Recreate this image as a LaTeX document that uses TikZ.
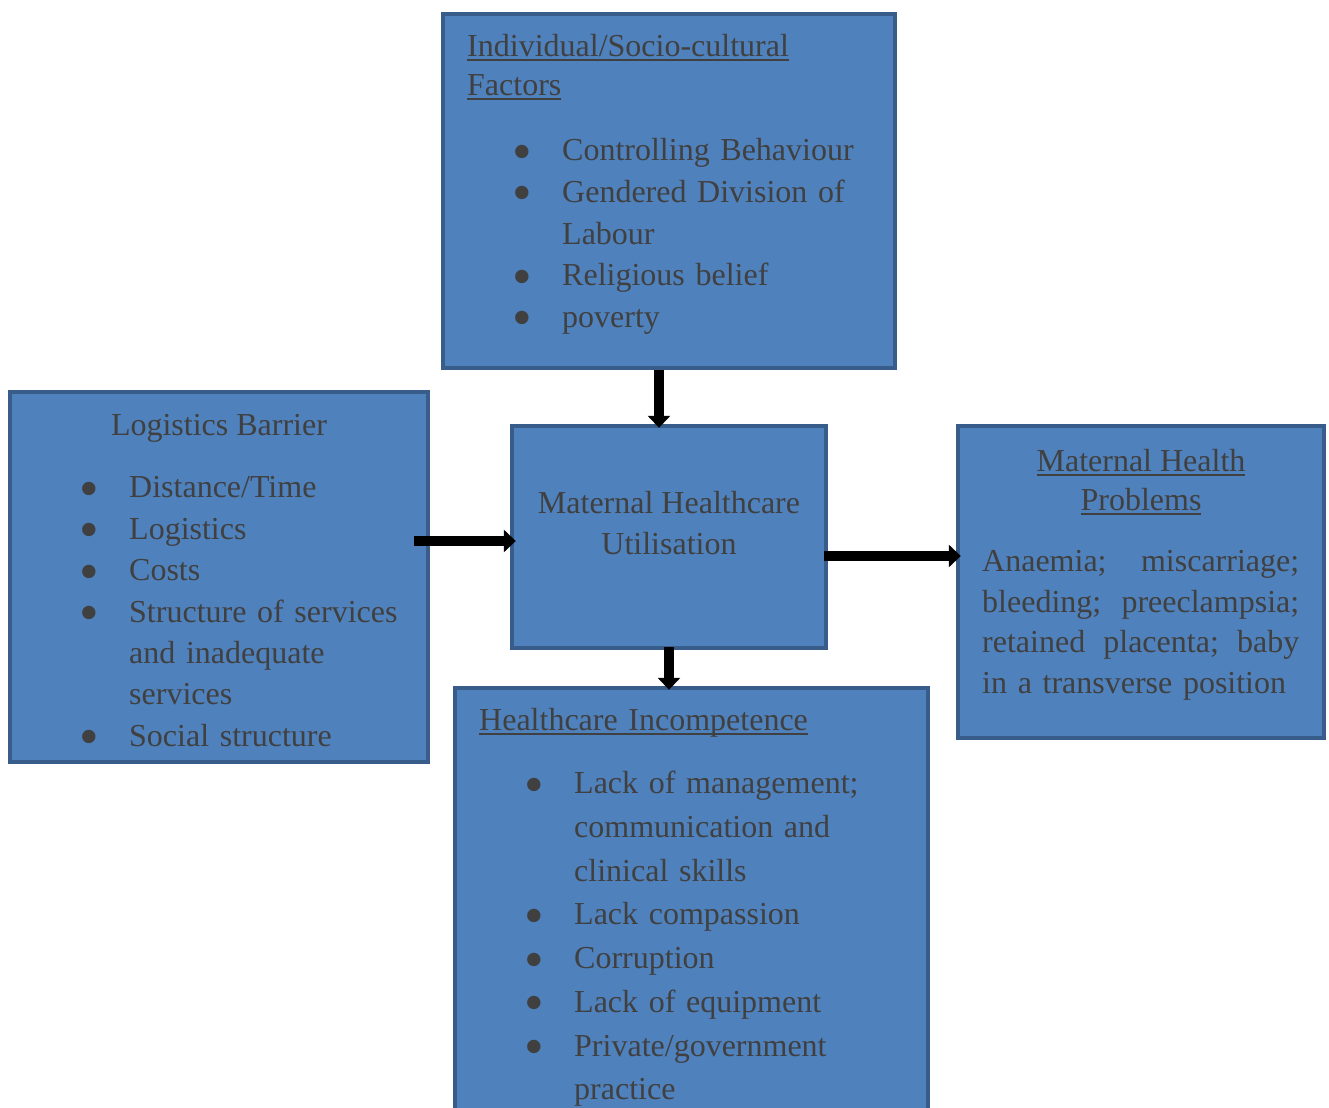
\documentclass[tikz,border=0pt]{standalone}
\usepackage{fontspec}
\setmainfont{Liberation Serif}
\usetikzlibrary{positioning,arrows.meta}

\definecolor{boxfill}{HTML}{4F81BD}
\definecolor{boxline}{HTML}{385D8A}
\definecolor{txtc}{HTML}{404040}

\newcommand{\undl}[1]{\leavevmode\setbox0\hbox{#1}\rlap{\rule[-2pt]{\wd0}{0.7pt}}\box0}
\newcommand{\bitem}{\makebox[22.5pt][l]{\makebox[5.5pt][c]{\raisebox{-4.7pt}[0pt][0pt]{\fontsize{28}{28}\selectfont\textbullet}}}}
\newcommand{\bcont}{\leavevmode\hspace*{22.5pt}}

\begin{document}
\begin{tikzpicture}[
            x=0.5pt, y=-0.5pt,
            box/.style={rectangle,draw=boxline,line width=2.2pt,fill=boxfill,inner sep=0},
            txt/.style={text=txtc,inner sep=0,text width=#1,align=left},
            ctxt/.style={text=txtc,inner sep=0,align=center},
            arr/.style={line width=5pt,-{Triangle[width=11pt,length=6pt]}}]
            \useasboundingbox (0,0) rectangle (1329,1108);
            \fontsize{16}{21}\selectfont
            % boxes
            \node[box,minimum width=226pt,minimum height=177pt](indiv) at (669,191){};
            \node[box,minimum width=209pt,minimum height=185pt](logi) at (219,577){};
            \node[box,minimum width=157pt,minimum height=111pt](util) at (669,537){};
            \node[box,minimum width=183pt,minimum height=156pt](prob) at (1141,582){};
            \node[box,minimum width=236.5pt,minimum height=221pt](incomp) at (691.5,909){};

            % texts
            \node[txt=200pt,anchor=base west,font=\fontsize{16}{19.5}\selectfont](indivtitle) at ([shift={(26,45)}]indiv.north west)
              {\undl{Individual/Socio-cultural}\\ \undl{Factors}};
            \node[txt=200pt,anchor=base west,font=\fontsize{16}{20.8}\selectfont](indivlist) at ([shift={(76,149)}]indiv.north west)
              {\bitem Controlling Behaviour\\ \bitem Gendered Division of\\ \bcont Labour\\ \bitem Religious belief\\ \bitem poverty};

            \node[ctxt,anchor=base](logititle) at ([shift={(0,46)}]logi.north){Logistics Barrier};
            \node[txt=200pt,anchor=base west,font=\fontsize{16}{20.7}\selectfont](logilist) at ([shift={(76,108)}]logi.north west)
              {\bitem Distance/Time\\ \bitem Logistics\\ \bitem Costs\\ \bitem Structure of services\\ \bcont and inadequate\\ \bcont services\\ \bitem Social structure};

            \node[ctxt,anchor=base,font=\fontsize{16}{20.5}\selectfont](utiltext) at ([shift={(0,131)}]util.north)
              {Maternal Healthcare\\ Utilisation};

            \node[ctxt,anchor=base,font=\fontsize{16}{19.5}\selectfont](probtitle) at ([shift={(0,87)}]prob.north)
              {\undl{Maternal Health}\\ \undl{Problems}};
            \node[txt=160pt,anchor=base west,font=\fontsize{16}{20.2}\selectfont](problist) at ([shift={(26,148)}]prob.north west)
              {\makebox[158.5pt][s]{Anaemia;\hfill miscarriage;}\\ \makebox[158.5pt][s]{bleeding;\hfill preeclampsia;}\\ \makebox[158.5pt][s]{retained\hfill placenta;\hfill baby}\\ in a transverse position};

            \node[txt=220pt,anchor=base west](incomptitle) at ([shift={(26,45)}]incomp.north west)
              {\undl{Healthcare Incompetence}};
            \node[txt=200pt,anchor=base west,font=\fontsize{16}{21.85}\selectfont](incomplist) at ([shift={(76,108)}]incomp.north west)
              {\bitem Lack of management;\\ \bcont communication and\\ \bcont clinical skills\\ \bitem Lack compassion\\ \bitem Corruption\\ \bitem Lack of equipment\\ \bitem Private/government\\ \bcont practice};

            % arrows
            \draw[arr] ([xshift=-5pt]indiv.south) -- ([xshift=-5pt,yshift=-2pt]util.north);
            \draw[arr] ([xshift=-8pt,yshift=18pt]logi.east) -- ([xshift=3pt,yshift=-2pt]util.west);
            \draw[arr] ([xshift=-2pt,yshift=-9.5pt]util.east) -- ([xshift=2.5pt,yshift=13pt]prob.west);
            \draw[arr] ([yshift=1.5pt]util.south) -- ([xshift=-11.25pt,yshift=-2pt]incomp.north);
\end{tikzpicture}
\end{document}
